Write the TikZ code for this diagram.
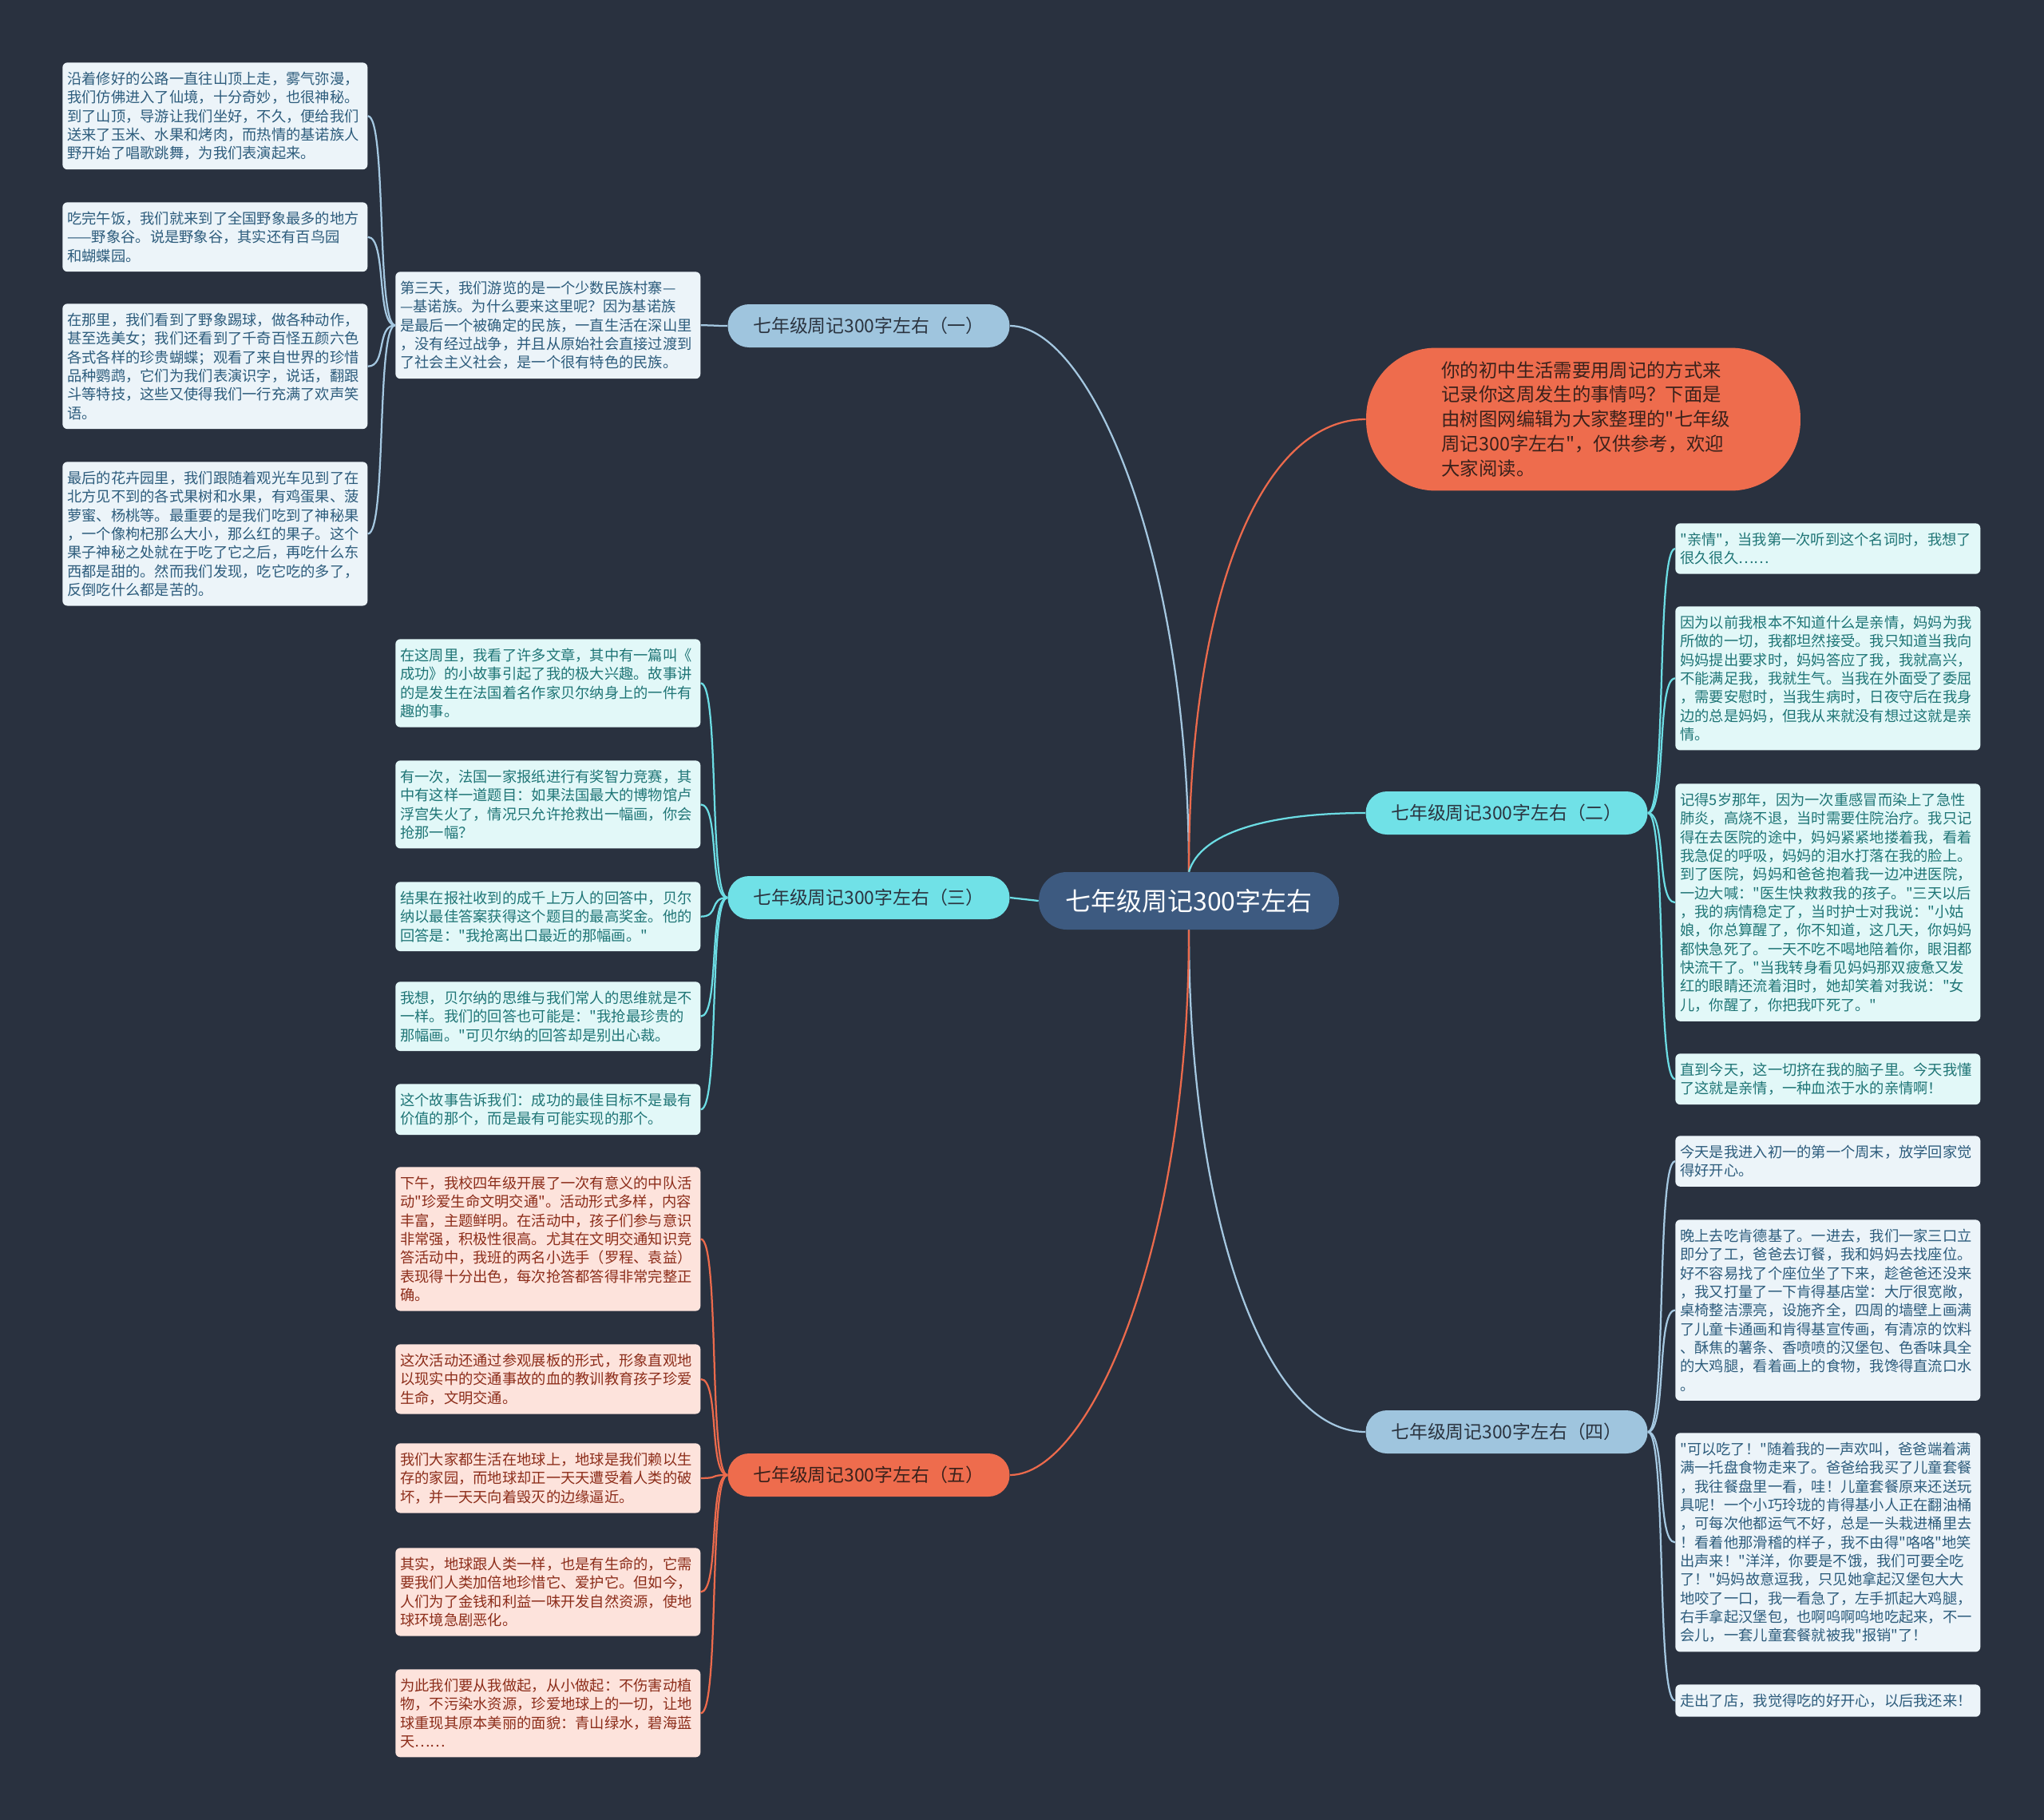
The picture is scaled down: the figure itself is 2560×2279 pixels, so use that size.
\documentclass[tikz,border=0pt]{standalone}
\usepackage{fontspec}
\setmainfont{Noto Sans CJK SC}[Ligatures=TeXOff]

\definecolor{bgdark}{HTML}{29313F}
\definecolor{rootfill}{HTML}{3D5A80}
\definecolor{brblue}{HTML}{9FC5DE}
\definecolor{brcyan}{HTML}{70E1E7}
\definecolor{brorange}{HTML}{EE6C4D}
\definecolor{brtext}{HTML}{2B3440}
\definecolor{brorangetext}{HTML}{3A211B}
\definecolor{leafbluefill}{HTML}{ECF4F9}
\definecolor{leafbluetext}{HTML}{2D5C7C}
\definecolor{leafcyanfill}{HTML}{E2F8F8}
\definecolor{leafcyantext}{HTML}{1F7576}
\definecolor{leafpeachfill}{HTML}{FDE3DC}
\definecolor{leafpeachtext}{HTML}{8C2D1A}
\definecolor{lnblue}{HTML}{A5C8E1}
\definecolor{lncyan}{HTML}{6CDDE4}
\definecolor{lnorange}{HTML}{EC6A4C}

\begin{document}
\begin{tikzpicture}[
        x=0.02cm, y=-0.02cm,
        link/.style={line width=0.045cm},
        leaf/.style={rectangle, rounded corners=0.12cm, anchor=north west, text width=7.4cm,
            inner xsep=0.12cm, inner ysep=0.23cm, align=left, font=\fontsize{10.4}{13.3}\selectfont},
        leafblue/.style={leaf, fill=leafbluefill, text=leafbluetext},
        leafcyan/.style={leaf, fill=leafcyanfill, text=leafcyantext},
        leafpeach/.style={leaf, fill=leafpeachfill, text=leafpeachtext},
        branch/.style={rectangle, rounded corners=0.53cm, minimum width=7.06cm, minimum height=1.08cm,
            inner sep=0pt, font=\fontsize{13}{16}\selectfont},
        root/.style={rectangle, rounded corners=0.7cm, minimum width=7.52cm, minimum height=1.44cm,
            inner sep=0pt, fill=rootfill, text=white, font=\fontsize{18.2}{22}\selectfont},
        intro/.style={rectangle, rounded corners=1.75cm, minimum width=10.88cm, minimum height=3.58cm,
            text width=7.1cm, align=left, fill=brorange, text=brorangetext,
            font=\fontsize{13.3}{17.6}\selectfont},
    ]

    % Background
    \fill[bgdark] (0,0) rectangle (2560,2279);
    \useasboundingbox (0,0) rectangle (2560,2279);

    % Draw the root and the branches
    \node[root] (root) at (1489,1128) {七年级周记300字左右};
    \node[branch, fill=brblue, text=brtext] (B-1) at (1088,408) {七年级周记300字左右（一）};
    \node[branch, fill=brcyan, text=brtext] (B-2) at (1887,1018) {七年级周记300字左右（二）};
    \node[branch, fill=brcyan, text=brtext] (B-3) at (1088,1124) {七年级周记300字左右（三）};
    \node[branch, fill=brblue, text=brtext] (B-4) at (1887,1793) {七年级周记300字左右（四）};
    \node[branch, fill=brorange, text=brorangetext] (B-5) at (1088,1847) {七年级周记300字左右（五）};
    \node[intro] (intro) at (1983,525) {你的初中生活需要用周记的方式来\\记录你这周发生的事情吗？下面是\\由树图网编辑为大家整理的"七年级\\周记300字左右"，仅供参考，欢迎\\大家阅读。};

    % Draw the nodes of branch one
    \node[leafblue] (M-1) at (495,340) {第三天，我们游览的是一个少数民族村寨—\\—基诺族。为什么要来这里呢？因为基诺族\\是最后一个被确定的民族，一直生活在深山里\\，没有经过战争，并且从原始社会直接过渡到\\了社会主义社会，是一个很有特色的民族。};
    \node[leafblue] (L-1) at (78,78) {沿着修好的公路一直往山顶上走，雾气弥漫，\\我们仿佛进入了仙境，十分奇妙，也很神秘。\\到了山顶，导游让我们坐好，不久，便给我们\\送来了玉米、水果和烤肉，而热情的基诺族人\\野开始了唱歌跳舞，为我们表演起来。};
    \node[leafblue] (L-2) at (78,253) {吃完午饭，我们就来到了全国野象最多的地方\\——野象谷。说是野象谷，其实还有百鸟园\\和蝴蝶园。};
    \node[leafblue] (L-3) at (78,380) {在那里，我们看到了野象踢球，做各种动作，\\甚至选美女；我们还看到了千奇百怪五颜六色\\各式各样的珍贵蝴蝶；观看了来自世界的珍惜\\品种鹦鹉，它们为我们表演识字，说话，翻跟\\斗等特技，这些又使得我们一行充满了欢声笑\\语。};
    \node[leafblue] (L-4) at (78,578) {最后的花卉园里，我们跟随着观光车见到了在\\北方见不到的各式果树和水果，有鸡蛋果、菠\\萝蜜、杨桃等。最重要的是我们吃到了神秘果\\，一个像枸杞那么大小，那么红的果子。这个\\果子神秘之处就在于吃了它之后，再吃什么东\\西都是甜的。然而我们发现，吃它吃的多了，\\反倒吃什么都是苦的。};

    % Draw the nodes of branch three
    \node[leafcyan] (T-1) at (495,800) {在这周里，我看了许多文章，其中有一篇叫《\\成功》的小故事引起了我的极大兴趣。故事讲\\的是发生在法国着名作家贝尔纳身上的一件有\\趣的事。};
    \node[leafcyan] (T-2) at (495,952) {有一次，法国一家报纸进行有奖智力竞赛，其\\中有这样一道题目：如果法国最大的博物馆卢\\浮宫失火了，情况只允许抢救出一幅画，你会\\抢那一幅？};
    \node[leafcyan] (T-3) at (495,1104) {结果在报社收到的成千上万人的回答中，贝尔\\纳以最佳答案获得这个题目的最高奖金。他的\\回答是："我抢离出口最近的那幅画。"};
    \node[leafcyan] (T-4) at (495,1229) {我想，贝尔纳的思维与我们常人的思维就是不\\一样。我们的回答也可能是："我抢最珍贵的\\那幅画。"可贝尔纳的回答却是别出心裁。};
    \node[leafcyan] (T-5) at (495,1357) {这个故事告诉我们：成功的最佳目标不是最有\\价值的那个，而是最有可能实现的那个。};

    % Draw the nodes of branch five
    \node[leafpeach] (F-1) at (495,1461) {下午，我校四年级开展了一次有意义的中队活\\动"珍爱生命文明交通"。活动形式多样，内容\\丰富，主题鲜明。在活动中，孩子们参与意识\\非常强，积极性很高。尤其在文明交通知识竞\\答活动中，我班的两名小选手（罗程、袁益）\\表现得十分出色，每次抢答都答得非常完整正\\确。};
    \node[leafpeach] (F-2) at (495,1683) {这次活动还通过参观展板的形式，形象直观地\\以现实中的交通事故的血的教训教育孩子珍爱\\生命，文明交通。};
    \node[leafpeach] (F-3) at (495,1807) {我们大家都生活在地球上，地球是我们赖以生\\存的家园，而地球却正一天天遭受着人类的破\\坏，并一天天向着毁灭的边缘逼近。};
    \node[leafpeach] (F-4) at (495,1938) {其实，地球跟人类一样，也是有生命的，它需\\要我们人类加倍地珍惜它、爱护它。但如今，\\人们为了金钱和利益一味开发自然资源，使地\\球环境急剧恶化。};
    \node[leafpeach] (F-5) at (495,2090) {为此我们要从我做起，从小做起：不伤害动植\\物，不污染水资源，珍爱地球上的一切，让地\\球重现其原本美丽的面貌：青山绿水，碧海蓝\\天……};

    % Draw the nodes of branch two
    \node[leafcyan] (E-1) at (2098,655) {"亲情"，当我第一次听到这个名词时，我想了\\很久很久……};
    \node[leafcyan] (E-2) at (2098,759) {因为以前我根本不知道什么是亲情，妈妈为我\\所做的一切，我都坦然接受。我只知道当我向\\妈妈提出要求时，妈妈答应了我，我就高兴，\\不能满足我，我就生气。当我在外面受了委屈\\，需要安慰时，当我生病时，日夜守后在我身\\边的总是妈妈，但我从来就没有想过这就是亲\\情。};
    \node[leafcyan] (E-3) at (2098,981) {记得5岁那年，因为一次重感冒而染上了急性\\肺炎，高烧不退，当时需要住院治疗。我只记\\得在去医院的途中，妈妈紧紧地搂着我，看着\\我急促的呼吸，妈妈的泪水打落在我的脸上。\\到了医院，妈妈和爸爸抱着我一边冲进医院，\\一边大喊："医生快救救我的孩子。"三天以后\\，我的病情稳定了，当时护士对我说："小姑\\娘，你总算醒了，你不知道，这几天，你妈妈\\都快急死了。一天不吃不喝地陪着你，眼泪都\\快流干了。"当我转身看见妈妈那双疲惫又发\\红的眼睛还流着泪时，她却笑着对我说："女\\儿，你醒了，你把我吓死了。"};
    \node[leafcyan] (E-4) at (2098,1319) {直到今天，这一切挤在我的脑子里。今天我懂\\了这就是亲情，一种血浓于水的亲情啊！};

    % Draw the nodes of branch four
    \node[leafblue] (R-1) at (2098,1422) {今天是我进入初一的第一个周末，放学回家觉\\得好开心。};
    \node[leafblue] (R-2) at (2098,1527) {晚上去吃肯德基了。一进去，我们一家三口立\\即分了工，爸爸去订餐，我和妈妈去找座位。\\好不容易找了个座位坐了下来，趁爸爸还没来\\，我又打量了一下肯得基店堂：大厅很宽敞，\\桌椅整洁漂亮，设施齐全，四周的墙壁上画满\\了儿童卡通画和肯得基宣传画，有清凉的饮料\\、酥焦的薯条、香喷喷的汉堡包、色香味具全\\的大鸡腿，看着画上的食物，我馋得直流口水\\。};
    \node[leafblue] (R-3) at (2098,1794) {"可以吃了！"随着我的一声欢叫，爸爸端着满\\满一托盘食物走来了。爸爸给我买了儿童套餐\\，我往餐盘里一看，哇！儿童套餐原来还送玩\\具呢！一个小巧玲珑的肯得基小人正在翻油桶\\，可每次他都运气不好，总是一头栽进桶里去\\！看着他那滑稽的样子，我不由得"咯咯"地笑\\出声来！"洋洋，你要是不饿，我们可要全吃\\了！"妈妈故意逗我，只见她拿起汉堡包大大\\地咬了一口，我一看急了，左手抓起大鸡腿，\\右手拿起汉堡包，也啊呜啊呜地吃起来，不一\\会儿，一套儿童套餐就被我"报销"了！};
    \node[leafblue] (R-4) at (2098,2109) {走出了店，我觉得吃的好开心，以后我还来！};

    % Connect the root with every branch
    \draw[link, draw=lnblue] (root.north) .. controls +(0,-400) and +(100,0) .. (B-1.east);
    \draw[link, draw=lnorange] (root.north) .. controls +(0,-350) and +(-130,0) .. (intro.west);
    \draw[link, draw=lncyan] (root.north) .. controls +(15,-50) and +(-120,0) .. (B-2.west);
    \draw[link, draw=lncyan] (root.west) -- (B-3.east);
    \draw[link, draw=lnblue] (root.south) .. controls +(0,350) and +(-130,0) .. (B-4.west);
    \draw[link, draw=lnorange] (root.south) .. controls +(0,400) and +(100,0) .. (B-5.east);

    % Connect every branch with its leaves
    \draw[link, draw=lnblue] (B-1.west) .. controls +(-18,0) and +(18,0) .. (M-1.east);
    \foreach \dest in {1,...,4}
        \draw[link, draw=lnblue] (M-1.west) .. controls +(-24,0) and +(24,0) .. (L-\dest.east);
    \foreach \dest in {1,...,5}
        \draw[link, draw=lncyan] (B-3.west) .. controls +(-24,0) and +(24,0) .. (T-\dest.east);
    \foreach \dest in {1,...,5}
        \draw[link, draw=lnorange] (B-5.west) .. controls +(-24,0) and +(24,0) .. (F-\dest.east);
    \foreach \dest in {1,...,4}
        \draw[link, draw=lncyan] (B-2.east) .. controls +(24,0) and +(-24,0) .. (E-\dest.west);
    \foreach \dest in {1,...,4}
        \draw[link, draw=lnblue] (B-4.east) .. controls +(24,0) and +(-24,0) .. (R-\dest.west);
\end{tikzpicture}
\end{document}
